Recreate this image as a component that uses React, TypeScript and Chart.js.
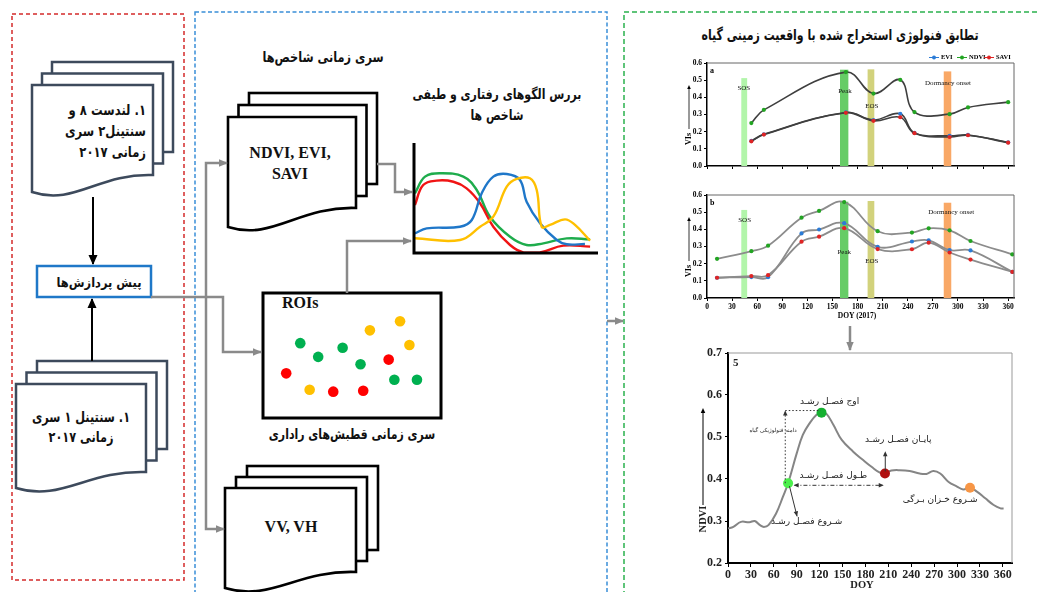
import React, { useEffect, useRef } from 'react';
import { Chart, registerables } from 'chart.js';

Chart.register(...registerables);

const SERIF = '"Liberation Serif", "Times New Roman", serif';
const FA = '"DejaVu Sans", sans-serif';

const EVI_COLOR = '#2b7bd6';
const NDVI_COLOR = '#22a422';
const SAVI_COLOR = '#e02424';

// ---- Panel a: index values on the phenology dates (DOY 2017) ----
const doyA = [53, 68, 166, 199, 231, 248, 290, 312, 360];
const ndviA = [0.25, 0.327, 0.547, 0.422, 0.502, 0.314, 0.302, 0.341, 0.372];
const eviA = [0.146, 0.185, 0.312, 0.268, 0.304, 0.193, 0.176, 0.181, 0.138];
const saviA = [0.144, 0.183, 0.31, 0.263, 0.284, 0.191, 0.169, 0.179, 0.136];

// ---- Panel b ----
const doyB = [12, 53, 73, 113, 134, 164, 204, 245, 265, 290, 315, 365];
const ndviB = [0.228, 0.273, 0.305, 0.468, 0.507, 0.559, 0.389, 0.381, 0.406, 0.394, 0.332, 0.254];
const eviB = [0.118, 0.122, 0.121, 0.376, 0.399, 0.436, 0.298, 0.329, 0.336, 0.279, 0.277, 0.152];
const saviB = [0.118, 0.128, 0.133, 0.328, 0.357, 0.407, 0.285, 0.284, 0.322, 0.265, 0.224, 0.152];

// DOY tick marks shared by the time axes
const doyTicks = [0, 30, 60, 90, 120, 150, 180, 210, 240, 270, 300, 330, 360];

// ---- Ground-truth phenology stage windows ----
const stageNames = ['SOS', 'Peak', 'EOS', 'Dormancy onset'];
const stageStart = [41, 159, 192, 283];
const stageEnd = [48, 169, 200, 292];
const stageTopA = [0.512, 0.561, 0.563, 0.551];
const stageTopB = [0.513, 0.561, 0.565, 0.555];
const stageColors = ['#b2f5aa', '#66cc66', '#d2d27c', '#f9a866'];

// ---- Panel 5: smoothed NDVI profile ----
const doy5 = [0, 7, 17, 28, 35, 42, 47, 53, 63, 72, 78.7, 90, 98, 107, 116, 122.5, 129, 138, 149, 164, 177, 188, 199, 205.6, 214, 225, 238, 251, 260, 269, 278, 289, 300, 308, 317, 326, 337, 348, 357, 361];
const ndvi5 = [0.282, 0.286, 0.298, 0.297, 0.3, 0.29, 0.286, 0.29, 0.318, 0.358, 0.39, 0.461, 0.505, 0.533, 0.553, 0.558, 0.555, 0.529, 0.493, 0.465, 0.445, 0.429, 0.415, 0.413, 0.42, 0.421, 0.419, 0.413, 0.412, 0.419, 0.413, 0.393, 0.382, 0.375, 0.379, 0.37, 0.354, 0.338, 0.33, 0.33];
const phenoDoy = [78.7, 122.5, 205.6, 317];
const phenoNdvi = [0.39, 0.558, 0.413, 0.379];
const phenoColors = ['#4cf04c', '#14b030', '#b01010', '#f79646'];

// ---- Schematic index curves ----
const greenX = [0.5, 6, 14.1, 26.8, 34.1, 41.3, 52.2, 61.2, 70.3, 83, 95.7];
const greenY = [54.3, 69.4, 72.5, 69.4, 57.3, 33, 14.8, 7.3, 8.8, 13.3, 12.4];
const redX = [0.5, 5, 12.3, 21.4, 28.6, 35.9, 43.1, 52.2, 59.4, 68.5, 81.1, 95.7];
const redY = [43.6, 61.8, 65.8, 64.8, 58.8, 45.2, 23.9, 7.3, 0.6, 0.6, 6.7, 5.8];
const blueX = [0.5, 6.9, 25, 31.4, 36.8, 43.1, 50.4, 57.6, 61.2, 68.5, 77.6, 83, 92.9];
const blueY = [17.9, 22.4, 23.9, 30, 54.3, 69.4, 71.8, 66.4, 46.6, 27, 11.8, 7.9, 8.2];
const yellowX = [0.5, 25, 35.9, 43.1, 50.4, 55.8, 63, 66.7, 69.4, 73.9, 82.1, 87.5, 95.7];
const yellowY = [13.4, 11.8, 23.9, 33, 60.3, 67.3, 67.9, 57.3, 23.9, 25.5, 30.6, 25.5, 11.2];

// ---- Sample regions ----
const roiX = [60.7, 78.7, 84.3, 19.1, 44.4, 29.8, 55.1, 71.9, 10.7, 75.3, 88.8, 24.7, 38.8, 56.7];
const roiY = [72, 80, 59.2, 60.8, 56.8, 48.8, 42.4, 46.4, 34.4, 28.8, 28.8, 20, 18.4, 19.2];
const roiClass = ['y', 'y', 'y', 'g', 'g', 'g', 'g', 'r', 'r', 'g', 'g', 'y', 'r', 'r'];
const roiColors: any = { g: '#00b050', r: '#ff0000', y: '#ffc000' };

// ---- Texts ----
const landsatLines = ['۱. لندست ۸ و', 'سنتینل۲ سری', 'زمانی ۲۰۱۷'];
const sentinel1Lines = ['۱. سنتینل ۱ سری', 'زمانی ۲۰۱۷'];
const preprocessText = 'پیش پردازش‌ها';
const indexSeriesTitle = 'سری زمانی شاخص‌ها';
const patternTitle = ['بررس الگوهای رفتاری و طیفی', 'شاخص ها'];
const radarCaption = 'سری زمانی قطبش‌های راداری';
const validationTitle = 'تطابق فنولوژی استخراج شده با واقعیت زمینی گیاه';

const pts = (xs: number[], ys: number[]) => xs.map((x, i) => ({ x, y: ys[i] }));

function arrowHead(ctx: any, x: number, y: number, ang: number, size: number) {
  ctx.save();
  ctx.translate(x, y);
  ctx.rotate(ang);
  ctx.beginPath();
  ctx.moveTo(0, 0);
  ctx.lineTo(-size, -size * 0.45);
  ctx.lineTo(-size, size * 0.45);
  ctx.closePath();
  ctx.fill();
  ctx.restore();
}

function seg(ctx: any, x0: number, y0: number, x1: number, y1: number) {
  ctx.beginPath();
  ctx.moveTo(x0, y0);
  ctx.lineTo(x1, y1);
  ctx.stroke();
}

const setDoyTicks = (s: any) => {
  s.ticks = doyTicks.map((v) => ({ value: v }));
};

function phenologyChart(p: any) {
  const tickFont = { family: SERIF, size: 7.5, weight: 'bold' as const };
  const series = [
    { label: 'SAVI', vals: p.savi, color: SAVI_COLOR, order: 0 },
    { label: 'EVI', vals: p.evi, color: EVI_COLOR, order: 1 },
    { label: 'NDVI', vals: p.ndvi, color: NDVI_COLOR, order: 2 },
  ];
  return {
    type: 'line',
    data: {
      datasets: series.map((s) => ({
        label: s.label,
        data: pts(p.doy, s.vals),
        order: s.order,
        borderColor: p.lineColor,
        borderWidth: p.lineWidth,
        tension: 0.4,
        pointRadius: 2.1,
        pointBackgroundColor: s.color,
        pointBorderColor: s.color,
        pointBorderWidth: 0,
        fill: false,
      })),
    },
    options: {
      animation: false,
      responsive: false,
      layout: { padding: { top: p.padTop, bottom: p.padBottom, right: p.padRight, left: 0 } },
      plugins: { legend: { display: false }, tooltip: { enabled: false } },
      scales: {
        x: {
          type: 'linear',
          min: 0,
          max: 367,
          afterFit: (s: any) => { s.height = p.xHeight; },
          afterBuildTicks: setDoyTicks,
          ticks: { display: p.xLabels, font: tickFont, color: '#000', padding: 2, maxRotation: 0, autoSkip: false },
          grid: { drawOnChartArea: false, drawTicks: true, tickLength: 3, color: '#000' },
          border: { color: '#000', width: 1.5 },
        },
        y: {
          min: 0,
          max: 0.6,
          afterFit: (s: any) => { s.width = 37; },
          ticks: { stepSize: 0.1, callback: (v: any) => Number(v).toFixed(1), font: tickFont, color: '#000', padding: 2 },
          grid: { drawOnChartArea: false, drawTicks: true, tickLength: 3, color: '#000' },
          border: { color: '#000', width: 1.5 },
        },
      },
    },
    plugins: [
      {
        id: 'stages',
        beforeDatasetsDraw(chart: any) {
          const { ctx, scales: { x, y } } = chart;
          ctx.save();
          stageStart.forEach((s, i) => {
            const x0 = x.getPixelForValue(s);
            const x1 = x.getPixelForValue(stageEnd[i]);
            const yt = y.getPixelForValue(p.stageTop[i]);
            const yb = y.getPixelForValue(0);
            ctx.fillStyle = stageColors[i];
            ctx.fillRect(x0, yt, x1 - x0, yb - yt);
          });
          ctx.fillStyle = '#111';
          ctx.font = `7px ${SERIF}`;
          ctx.textAlign = 'center';
          ctx.textBaseline = 'middle';
          stageNames.forEach((n, i) => ctx.fillText(n, x.getPixelForValue(p.labelDoy[i]), y.getPixelForValue(p.labelVal[i])));
          ctx.restore();
        },
        afterDraw(chart: any) {
          const { ctx, chartArea: a } = chart;
          ctx.save();
          ctx.strokeStyle = '#666';
          ctx.lineWidth = 1;
          seg(ctx, a.left, a.top, a.right, a.top);
          seg(ctx, a.right, a.top, a.right, a.bottom);
          ctx.fillStyle = '#000';
          ctx.font = `bold 8px ${SERIF}`;
          ctx.textAlign = 'left';
          ctx.textBaseline = 'middle';
          ctx.fillText(p.letter, a.left + 3, a.top + 8);
          // axis title with upward arrow
          ctx.save();
          ctx.translate(a.left - 18, a.top + 76);
          ctx.rotate(-Math.PI / 2);
          ctx.textAlign = 'center';
          ctx.fillText('VIs', 0, 0);
          ctx.restore();
          ctx.strokeStyle = '#000';
          ctx.lineWidth = 0.8;
          seg(ctx, a.left - 18, a.top + 66, a.left - 18, a.top + 24);
          arrowHead(ctx, a.left - 18, a.top + 22, -Math.PI / 2, 4);
          if (p.legend) {
            const items = [
              { t: 'EVI', c: EVI_COLOR, m: -80 },
              { t: 'NDVI', c: NDVI_COLOR, m: -52 },
              { t: 'SAVI', c: SAVI_COLOR, m: -25 },
            ];
            const ly = a.top - 5.5;
            ctx.font = `bold 6.5px ${SERIF}`;
            items.forEach((it) => {
              const cx = a.right + it.m;
              ctx.strokeStyle = it.c;
              ctx.lineWidth = 1;
              seg(ctx, cx - 5, ly, cx + 5, ly);
              ctx.fillStyle = it.c;
              ctx.beginPath();
              ctx.arc(cx, ly, 2, 0, Math.PI * 2);
              ctx.fill();
              ctx.fillStyle = '#000';
              ctx.textAlign = 'left';
              ctx.fillText(it.t, cx + 7, ly);
            });
          }
          if (p.xTitle) {
            ctx.fillStyle = '#000';
            ctx.font = `bold 7.5px ${SERIF}`;
            ctx.textAlign = 'center';
            ctx.fillText(p.xTitle, a.left + 150, a.bottom + 18);
          }
          ctx.restore();
        },
      },
    ],
  };
}

const annotations5 = [
  { text: 'اوج فصـل رشـد', doy: 133, v: 0.585, size: 9 },
  { text: 'دامنه فنولوژیکی گیاه', doy: 59, v: 0.515, size: 5.5 },
  { text: 'پایـان فصـل رشـد', doy: 223, v: 0.493, size: 9 },
  { text: 'طـول فصـل رشـد', doy: 138, v: 0.408, size: 9 },
  { text: 'شـروع فصـل رشـد', doy: 103, v: 0.298, size: 9 },
  { text: 'شـروع خـزان بـرگی', doy: 278, v: 0.352, size: 9 },
];

function ndviChart() {
  const tickFont = { family: SERIF, size: 12, weight: 'bold' as const };
  return {
    type: 'line',
    data: {
      datasets: [
        {
          data: phenoDoy.map((d, i) => ({ x: d, y: phenoNdvi[i] })),
          showLine: false,
          pointRadius: 5,
          pointBackgroundColor: phenoColors,
          pointBorderColor: phenoColors,
          pointBorderWidth: 0,
          order: 0,
        },
        {
          data: pts(doy5, ndvi5),
          borderColor: '#858585',
          borderWidth: 2,
          tension: 0.4,
          pointRadius: 0,
          fill: false,
          order: 1,
        },
      ],
    },
    options: {
      animation: false,
      responsive: false,
      layout: { padding: { top: 13, bottom: 9, right: 25, left: 0 } },
      plugins: { legend: { display: false }, tooltip: { enabled: false } },
      scales: {
        x: {
          type: 'linear',
          min: 0,
          max: 372,
          afterFit: (s: any) => { s.height = 20; },
          afterBuildTicks: setDoyTicks,
          ticks: { font: tickFont, color: '#222', padding: 1, maxRotation: 0, autoSkip: false },
          grid: { drawOnChartArea: false, drawTicks: true, tickLength: 4, color: '#000' },
          border: { color: '#000', width: 2 },
        },
        y: {
          min: 0.2,
          max: 0.7,
          afterFit: (s: any) => { s.width = 38; },
          ticks: { stepSize: 0.1, callback: (v: any) => Number(v).toFixed(1), font: tickFont, color: '#222', padding: 3 },
          grid: { drawOnChartArea: false, drawTicks: true, tickLength: 3, color: '#000' },
          border: { color: '#000', width: 2 },
        },
      },
    },
    plugins: [
      {
        id: 'ndviNotes',
        afterDraw(chart: any) {
          const { ctx, chartArea: a, scales: { x, y } } = chart;
          const X = (v: number) => x.getPixelForValue(v);
          const Y = (v: number) => y.getPixelForValue(v);
          ctx.save();
          ctx.strokeStyle = '#999';
          ctx.lineWidth = 1;
          seg(ctx, a.left, a.top, a.right, a.top);
          seg(ctx, a.right, a.top, a.right, a.bottom);
          ctx.fillStyle = '#222';
          ctx.font = `bold 11px ${SERIF}`;
          ctx.textAlign = 'left';
          ctx.textBaseline = 'middle';
          ctx.fillText('5', a.left + 5, a.top + 10);

          ctx.strokeStyle = '#333';
          ctx.fillStyle = '#333';
          ctx.lineWidth = 1;
          // amplitude bracket
          ctx.setLineDash([1.5, 2]);
          seg(ctx, X(75), Y(0.39), X(75), Y(0.563));
          seg(ctx, X(75), Y(0.563), X(121), Y(0.563));
          ctx.setLineDash([]);
          arrowHead(ctx, X(75), Y(0.563), -Math.PI / 2, 5);
          // season length
          ctx.setLineDash([4, 2, 1, 2]);
          seg(ctx, X(87), Y(0.385), X(203), Y(0.385));
          ctx.setLineDash([]);
          arrowHead(ctx, X(86), Y(0.385), Math.PI, 5);
          arrowHead(ctx, X(204), Y(0.385), 0, 5);
          // end of season pointer
          seg(ctx, X(206), Y(0.418), X(206), Y(0.462));
          arrowHead(ctx, X(206), Y(0.466), -Math.PI / 2, 5);
          // start of season pointer
          const sx0 = X(80.5), sy0 = Y(0.383), sx1 = X(90.5), sy1 = Y(0.311);
          seg(ctx, sx0, sy0, sx1, sy1);
          arrowHead(ctx, sx1, sy1, Math.atan2(sy1 - sy0, sx1 - sx0), 5);

          ctx.fillStyle = '#222';
          ctx.textAlign = 'center';
          annotations5.forEach((n) => {
            ctx.font = `${n.size}px ${FA}`;
            ctx.fillText(n.text, X(n.doy), Y(n.v));
          });

          // axis titles
          ctx.font = `bold 10.5px ${SERIF}`;
          ctx.fillText('DOY', a.left + 134, a.bottom + 22);
          ctx.save();
          ctx.translate(a.left - 25, a.top + 166);
          ctx.rotate(-Math.PI / 2);
          ctx.fillText('NDVI', 0, 0);
          ctx.restore();
          ctx.strokeStyle = '#000';
          seg(ctx, a.left - 25, a.top + 152, a.left - 25, a.top + 58);
          ctx.fillStyle = '#000';
          arrowHead(ctx, a.left - 25, a.top + 55, -Math.PI / 2, 5);
          ctx.restore();
        },
      },
    ],
  };
}

function sketchChart() {
  const line = (xs: number[], ys: number[], c: string) => ({
    data: pts(xs, ys),
    borderColor: c,
    borderWidth: 2.4,
    tension: 0.4,
    pointRadius: 0,
    fill: false,
    clip: false,
  });
  return {
    type: 'line',
    data: {
      datasets: [
        line(yellowX, yellowY, '#ffc000'),
        line(blueX, blueY, '#1f77c9'),
        line(redX, redY, '#f01414'),
        line(greenX, greenY, '#1eac4c'),
      ],
    },
    options: {
      animation: false,
      responsive: false,
      layout: { padding: { left: 4, right: 4, top: 3, bottom: 3 } },
      plugins: { legend: { display: false }, tooltip: { enabled: false } },
      scales: {
        x: { type: 'linear', min: 0, max: 100, display: false },
        y: { min: 0, max: 100, display: false },
      },
    },
    plugins: [
      {
        id: 'sketchAxes',
        afterDatasetsDraw(chart: any) {
          const { ctx, chartArea: a } = chart;
          ctx.save();
          ctx.strokeStyle = '#000';
          ctx.lineWidth = 3;
          ctx.beginPath();
          ctx.moveTo(a.left, a.top);
          ctx.lineTo(a.left, a.bottom);
          ctx.lineTo(a.right, a.bottom);
          ctx.stroke();
          ctx.restore();
        },
      },
    ],
  };
}

function roiChart() {
  return {
    type: 'scatter',
    data: {
      datasets: [
        {
          data: pts(roiX, roiY),
          pointRadius: 5.3,
          pointBackgroundColor: roiClass.map((c) => roiColors[c]),
          pointBorderWidth: 0,
        },
      ],
    },
    options: {
      animation: false,
      responsive: false,
      layout: { padding: 0 },
      plugins: { legend: { display: false }, tooltip: { enabled: false } },
      scales: {
        x: { min: 0, max: 100, display: false },
        y: { min: 0, max: 100, display: false },
      },
    },
  };
}

function ChartCanvas({ left, top, width, height, make }: any) {
  const ref = useRef<HTMLCanvasElement>(null);
  useEffect(() => {
    const chart = new Chart(ref.current as any, make());
    return () => chart.destroy();
  }, []);
  return (
    <canvas
      ref={ref}
      width={width}
      height={height}
      style={{ position: 'absolute', left, top, width, height, display: 'block' }}
    />
  );
}

// Text block anchored at a centre x (or right edge x), horizontally condensed by sx
function Txt({ cx, rx, lx, top, size, lh, lines, sx = 1, font = FA, dir = 'rtl', weight = 700 }: any) {
  const W = 500;
  let left = 0;
  let align = 'center';
  let origin = 'center';
  if (rx !== undefined) { left = rx - W; align = 'right'; origin = 'right'; }
  else if (lx !== undefined) { left = lx; align = 'left'; origin = 'left'; }
  else { left = cx - W / 2; }
  return (
    <div
      dir={dir}
      style={{
        position: 'absolute',
        left,
        top,
        width: W,
        fontFamily: font,
        fontSize: size,
        fontWeight: weight,
        lineHeight: `${lh}px`,
        textAlign: align as any,
        color: '#111',
        whiteSpace: 'nowrap',
        transform: `scaleX(${sx})`,
        transformOrigin: `${origin} top`,
      }}
    >
      {lines.map((l: string, i: number) => (
        <div key={i}>{l}</div>
      ))}
    </div>
  );
}

const docPath = (x: number, y: number, w: number, h: number, a: number) =>
  `M${x},${y} H${x + w} V${y + h} C${x + w * 0.55},${y + h - 2} ${x + w * 0.35},${y + h + a + 14} ${x},${y + h + a} Z`;

function DocStack({ x, y, w, h, a, dx, dy, stroke, sw }: any) {
  return (
    <g fill="#fff" stroke={stroke} strokeWidth={sw} strokeLinejoin="miter">
      <rect x={x + 2 * dx} y={y + 2 * dy} width={w} height={h} />
      <rect x={x + dx} y={y + dy} width={w} height={h} />
      <path d={docPath(x, y, w, h, a)} />
    </g>
  );
}

export default function App() {
  const gray = '#8a8a8a';
  return (
    <div style={{ position: 'absolute', left: 0, top: 0, width: 1037, height: 592, background: '#fff', overflow: 'hidden' }}>
      <svg width={1037} height={592} style={{ position: 'absolute', left: 0, top: 0 }}>
        <defs>
          <marker id="hg" markerUnits="userSpaceOnUse" markerWidth="9" markerHeight="9" refX="8" refY="4.5" orient="auto">
            <path d="M0,0.8 L9,4.5 L0,8.2 z" fill={gray} />
          </marker>
          <marker id="hb" markerUnits="userSpaceOnUse" markerWidth="10" markerHeight="10" refX="9" refY="5" orient="auto">
            <path d="M0,0.5 L10,5 L0,9.5 z" fill="#000" />
          </marker>
        </defs>
        {/* section frames */}
        <rect x={12} y={14} width={172} height={566} fill="none" stroke="#d42a2a" strokeWidth={1.5} strokeDasharray="4 3" />
        <rect x={195} y={12} width={412} height={620} fill="none" stroke="#3a8ed8" strokeWidth={1.5} strokeDasharray="4 2.5" />
        <rect x={624} y={12} width={500} height={620} fill="none" stroke="#2ab14e" strokeWidth={1.5} strokeDasharray="5 3" />

        {/* input data */}
        <DocStack x={32} y={85} w={121} h={90} a={17} dx={10} dy={-11.5} stroke="#3d4a5c" sw={2.5} />
        <DocStack x={16} y={384} w={130} h={88} a={16} dx={10.5} dy={-11.5} stroke="#3d4a5c" sw={2.5} />
        <line x1={93} y1={197} x2={93} y2={264} stroke="#000" strokeWidth={2} markerEnd="url(#hb)" />
        <line x1={92} y1={361} x2={92} y2={299} stroke="#000" strokeWidth={2} markerEnd="url(#hb)" />
        <rect x={37} y={266} width={114} height={31} fill="#fff" stroke="#1f78c8" strokeWidth={2.5} />

        {/* processing */}
        <DocStack x={228} y={117} w={128} h={91} a={19} dx={10.5} dy={-12} stroke="#000" sw={2.6} />
        <DocStack x={225} y={488} w={131} h={84} a={16} dx={11} dy={-11} stroke="#000" sw={2.6} />
        <rect x={263} y={293} width={178} height={125} fill="#fff" stroke="#000" strokeWidth={3} />

        <g fill="none" stroke={gray} strokeWidth={2.5}>
          <polyline points="151,297 223,297 223,352 261,352" markerEnd="url(#hg)" />
          <polyline points="206,297 206,163 227,163" markerEnd="url(#hg)" />
          <polyline points="206,297 206,529 224,529" markerEnd="url(#hg)" />
          <polyline points="377,164 395,164 395,192 412,192" markerEnd="url(#hg)" />
          <polyline points="347,293 347,241 411,241" markerEnd="url(#hg)" />
          <line x1={607} y1={321} x2={623} y2={321} markerEnd="url(#hg)" />
          <line x1={850} y1={326} x2={850} y2={350} markerEnd="url(#hg)" />
        </g>
      </svg>

      <Txt rx={146} top={99.5} size={14.5} lh={21} lines={landsatLines} sx={0.8} />
      <Txt cx={81} top={407} size={14.5} lh={20} lines={sentinel1Lines} sx={0.78} />
      <Txt cx={99} top={272} size={13} lh={22} lines={[preprocessText]} sx={0.88} />
      <Txt cx={323} top={46} size={14} lh={22} lines={[indexSeriesTitle]} sx={0.81} />
      <Txt cx={497} top={84} size={14} lh={21} lines={patternTitle} sx={0.78} />
      <Txt cx={352} top={423} size={14} lh={22} lines={[radarCaption]} sx={0.78} />
      <Txt cx={840} top={24} size={15} lh={22} lines={[validationTitle]} sx={0.73} />

      <Txt cx={290} top={141.5} size={16} lh={21} lines={['NDVI, EVI,', 'SAVI']} font={SERIF} dir="ltr" />
      <Txt lx={282} top={292} size={16} lh={22} lines={['ROIs']} font={SERIF} dir="ltr" />
      <Txt cx={291} top={516} size={16} lh={22} lines={['VV, VH']} font={SERIF} dir="ltr" />

      <ChartCanvas left={410} top={140} width={192} height={116} make={sketchChart} />
      <ChartCanvas left={263} top={293} width={178} height={125} make={roiChart} />
      <ChartCanvas
        left={670}
        top={48}
        width={362}
        height={130}
        make={() =>
          phenologyChart({
            doy: doyA, ndvi: ndviA, evi: eviA, savi: saviA,
            stageTop: stageTopA,
            labelDoy: [44, 165, 197, 288],
            labelVal: [0.456, 0.438, 0.35, 0.485],
            letter: 'a', lineColor: '#3f3f3f', lineWidth: 1.6,
            xLabels: false, legend: true, xTitle: '',
            padTop: 15, padBottom: 4, xHeight: 8, padRight: 18,
          })
        }
      />
      <ChartCanvas
        left={670}
        top={185}
        width={362}
        height={140}
        make={() =>
          phenologyChart({
            doy: doyB, ndvi: ndviB, evi: eviB, savi: saviB,
            stageTop: stageTopB,
            labelDoy: [45, 164, 197, 292],
            labelVal: [0.455, 0.269, 0.217, 0.501],
            letter: 'b', lineColor: '#8c8c8c', lineWidth: 1.8,
            xLabels: true, legend: false, xTitle: 'DOY (2017)',
            padTop: 10, padBottom: 7, xHeight: 20, padRight: 18,
          })
        }
      />
      <ChartCanvas left={690} top={340} width={347} height={252} make={ndviChart} />
    </div>
  );
}
